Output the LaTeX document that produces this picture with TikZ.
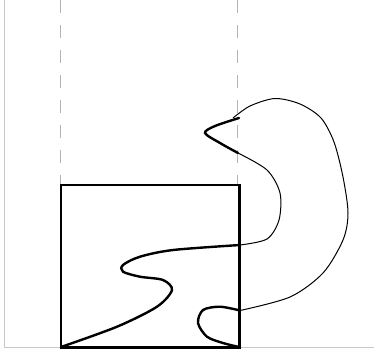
\documentclass[tikz,border=0pt]{standalone}
\usepackage{xcolor}
\usepackage{tikz}
\definecolor{axisgray}{HTML}{C8C8C8}
\definecolor{guidegray}{HTML}{B4B4B4}

\begin{document}
\begin{tikzpicture}[
    x=1pt, y=-1pt,
    axisline/.style={draw=axisgray, line width=1pt},
    guideline/.style={draw=guidegray, line width=1pt, dash pattern=on 12.5pt off 12.5pt},
    boxline/.style={draw=black, line width=2.7pt},
    curvethick/.style={draw=black, line width=2.4pt, line cap=round},
    curvethin/.style={draw=black, line width=1pt}
]
\useasboundingbox (0,0) rectangle (374,354);

% corners of the box
\coordinate (boxsw) at (61,347.5);
\coordinate (boxne) at (239.5,185);
\coordinate (origin) at (4,347.5);

% axes and guides
\draw[axisline] (origin) -- (4,0);
\draw[axisline] (origin) -- (374,347.5);
\draw[guideline] (60.3,0) -- (60.3,185);
\draw[guideline] (237.3,0) -- (237.3,185);

% the box
\draw[boxline] (boxsw) rectangle (boxne);

% the curve, thick inside the strip, thin outside
\draw[curvethick] plot[smooth] coordinates {(61,347) (117,326.7) (157,306.7) (172,290)
    (163,280) (140,276.7) (123,271.7) (123,265) (140,256.7) (173,250) (240,245)};
\draw[curvethin] plot[smooth] coordinates {(240,245) (267,239) (279,220) (280,193)
    (267,170) (238,153)};
\draw[curvethick] plot[smooth] coordinates {(238,153) (220,143) (205,133) (215,126) (239,118)};
\draw[curvethin] plot[smooth] coordinates {(233,118) (250,106) (275,98.5) (300,104)
    (321,118) (334,142) (343,177) (348,213) (343,240) (323,273) (290,297) (240,310.5)};
\draw[curvethick] plot[smooth] coordinates {(240,310.5) (220,306.7) (203,310) (198,323)
    (207,336.7) (223,343) (239,347)};
\end{tikzpicture}
\end{document}
